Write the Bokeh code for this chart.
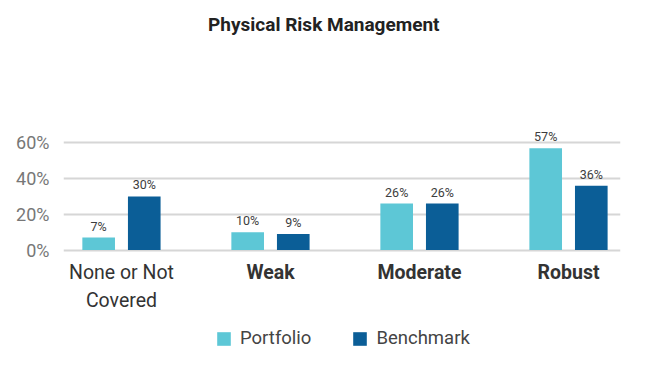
import numpy as np
from bokeh.plotting import figure
from bokeh.models import ColumnDataSource, Range1d, FixedTicker, Legend, LegendItem, Label
from bokeh.core.properties import value
from bokeh.transform import dodge
from bokeh.embed import file_html
from bokeh.resources import INLINE

# ---- data ----
categories = ["None or Not\nCovered", "Weak", "Moderate", "Robust"]
portfolio = [7, 10, 26, 57]
benchmark = [30, 9, 26, 36]
yticks = [0, 20, 40, 60]
ytick_labels = ["0%", "20%", "40%", "60%"]
series_names = ["Portfolio", "Benchmark"]
title_text = "Physical Risk Management"

FONT = "Roboto"
C_PORT = "#5DC7D6"
C_BENCH = "#0B5E97"

x = np.arange(len(categories))
src = ColumnDataSource(dict(
    x=x,
    port=portfolio,
    bench=benchmark,
    port_lbl=[f"{v}%" for v in portfolio],
    bench_lbl=[f"{v}%" for v in benchmark],
    cat=categories,
    cat_style=["normal"] + ["bold"] * (len(categories) - 1),
))

p = figure(width=643, height=362, output_backend="svg", toolbar_location=None,
           x_range=Range1d(-0.389, 3.349), y_range=Range1d(-63, 135.3),
           x_axis_location=None,
           min_border_left=63, min_border_right=23, min_border_top=8, min_border_bottom=0)
p.outline_line_color = None
p.background_fill_color = "white"
p.border_fill_color = "white"

# axes / grid
p.yaxis.ticker = FixedTicker(ticks=yticks)
p.yaxis.major_label_overrides = {t: l for t, l in zip(yticks, ytick_labels)}
p.yaxis.axis_line_color = None
p.yaxis.major_tick_line_color = None
p.yaxis.minor_tick_line_color = None
p.yaxis.major_label_standoff = 8
p.yaxis.major_label_text_font = FONT
p.yaxis.major_label_text_font_size = "18px"
p.yaxis.major_label_text_color = "#777777"
p.xgrid.visible = False
p.ygrid.ticker = FixedTicker(ticks=yticks)
p.ygrid.grid_line_color = "#d6d6d6"
p.ygrid.grid_line_width = 2

bw = 0.219
off = 0.153
r1 = p.vbar(x=dodge("x", -off), top="port", width=bw, source=src, fill_color=C_PORT, line_color=None)
r2 = p.vbar(x=dodge("x", off), top="bench", width=bw, source=src, fill_color=C_BENCH, line_color=None)

# value labels
for o, col, lbl in [(-off, "port", "port_lbl"), (off, "bench", "bench_lbl")]:
    p.text(x=dodge("x", o), y=col, text=lbl, source=src, text_align="center", text_baseline="bottom",
           y_offset=-4, text_font=value(FONT), text_font_size="12.5px",
           text_font_style="normal", text_color="#3d3d3d")

# category labels
p.text(x="x", y=0, text="cat", source=src, text_align="center", text_baseline="top",
       y_offset=11, text_font=value(FONT), text_font_size="19.5px",
       text_font_style="cat_style", text_color="#333333", text_line_height=1.23)

# title
p.add_layout(Label(x=1.358, y=126.3, text=title_text, text_align="center", text_baseline="middle",
                   text_font=FONT, text_font_size="19px", text_font_style="bold", text_color="#222222"))

legend = Legend(items=[LegendItem(label=series_names[0], renderers=[r1]),
                       LegendItem(label=series_names[1], renderers=[r2])],
                orientation="horizontal", location=(152, 13),
                glyph_width=17, glyph_height=17, label_height=17, label_standoff=8,
                spacing=40, padding=0, margin=0, border_line_color=None,
                background_fill_alpha=0, label_text_font=FONT, label_text_font_size="18.5px",
                label_text_color="#444444")
p.add_layout(legend, "center")

open("out.html", "w").write(file_html(p, INLINE))
